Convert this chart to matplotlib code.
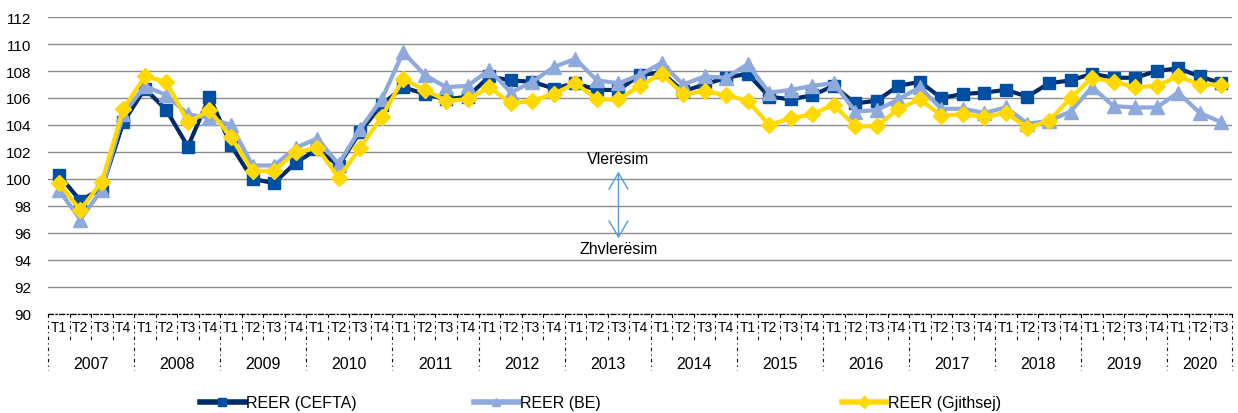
import matplotlib.pyplot as plt
from matplotlib.lines import Line2D
import matplotlib.transforms as mtransforms

plt.rcParams['font.family'] = ['Liberation Sans', 'DejaVu Sans']

years = ['2007', '2008', '2009', '2010', '2011', '2012', '2013',
         '2014', '2015', '2016', '2017', '2018', '2019', '2020']
quarters_per_year = [4] * 13 + [3]
quarters = [f'T{q + 1}' for n in quarters_per_year for q in range(n)]

# REER (CEFTA)
cefta = [100.3, 98.4, 99.3, 104.2, 106.7, 105.1, 102.4, 106.1,
         102.5, 100.0, 99.7, 101.2, 102.2, 101.0, 103.5, 105.5,
         106.8, 106.3, 105.9, 106.1, 107.6, 107.3, 107.2, 106.7,
         107.1, 106.6, 106.6, 107.7, 107.9, 106.5, 107.0, 107.5,
         107.8, 106.1, 105.9, 106.2, 106.9, 105.6, 105.8, 106.9,
         107.2, 106.0, 106.3, 106.4, 106.6, 106.1, 107.1, 107.3,
         107.8, 107.5, 107.5, 108.0, 108.2, 107.6, 107.1]
# REER (BE)
be = [99.2, 97.0, 99.2, 104.8, 106.9, 106.2, 104.8, 104.5,
      104.0, 101.0, 101.0, 102.3, 103.0, 101.1, 103.7, 105.9,
      109.4, 107.7, 106.8, 106.9, 108.1, 106.4, 107.2, 108.3,
      108.9, 107.3, 107.1, 107.7, 108.6, 107.0, 107.6, 107.5,
      108.5, 106.4, 106.6, 106.9, 107.1, 105.0, 105.1, 105.9,
      106.8, 105.2, 105.2, 104.9, 105.3, 104.1, 104.3, 105.0,
      106.8, 105.4, 105.3, 105.3, 106.4, 104.9, 104.2]
# REER (Gjithsej)
gjithsej = [99.7, 97.7, 99.8, 105.2, 107.6, 107.2, 104.2, 105.1,
            103.1, 100.6, 100.6, 102.0, 102.3, 100.1, 102.3, 104.6,
            107.4, 106.6, 105.8, 105.9, 106.8, 105.6, 105.8, 106.3,
            107.1, 105.9, 105.9, 106.9, 107.8, 106.3, 106.5, 106.2,
            105.8, 104.0, 104.5, 104.8, 105.5, 103.9, 103.9, 105.2,
            105.9, 104.7, 104.8, 104.6, 104.9, 103.8, 104.3, 106.0,
            107.5, 107.2, 106.8, 106.9, 107.6, 107.0, 107.0]

x = list(range(len(quarters)))

fig = plt.figure(figsize=(12.38, 4.14), dpi=100)
ax = fig.add_axes([48 / 1238, 1 - 315 / 414, 1184 / 1238, 297 / 414])

l1, = ax.plot(x, cefta, color='#002B66', lw=3, marker='s', ms=9,
              mfc='#004FA3', mec='#004FA3', zorder=3)
l2, = ax.plot(x, be, color='#8EA9DB', lw=3, marker='^', ms=10,
              mfc='#8EA9DB', mec='#8EA9DB', zorder=4)
l3, = ax.plot(x, gjithsej, color='#FFD900', lw=3, marker='D', ms=8,
              mfc='#FFD900', mec='#FFD900', zorder=5)

ax.set_xlim(-0.5, len(x) - 0.5)
ax.set_ylim(90, 112)
ax.set_yticks(range(90, 113, 2))
ax.yaxis.grid(True, color='#8c8c8c', lw=1)
ax.set_axisbelow(True)
ax.tick_params(axis='y', length=0, pad=12, labelsize=11)
ax.set_xticks([])
for s in ['left', 'right', 'top']:
    ax.spines[s].set_visible(False)
ax.spines['bottom'].set_linestyle((0, (4, 2, 1, 2)))
ax.spines['bottom'].set_linewidth(0.9)
ax.spines['bottom'].set_zorder(6)

# two level category axis
trans = mtransforms.blended_transform_factory(ax.transData, ax.transAxes)
dash = (0, (3, 3, 1, 3))
for i, q in enumerate(quarters):
    ax.text(i, -0.045, q, transform=trans, ha='center', va='center', fontsize=10)
pos = 0
bounds = [0]
for yr, n in zip(years, quarters_per_year):
    ax.text(pos + (n - 1) / 2, -0.165, yr, transform=trans, ha='center', va='center',
            fontsize=11.5)
    pos += n
    bounds.append(pos)
for b in range(len(x) + 1):
    y0 = -0.19 if b in bounds else -0.09
    ax.plot([b - 0.5, b - 0.5], [0, y0], transform=trans, color='black', lw=0.8,
            ls=dash, clip_on=False)

# annotation
ax.annotate('', xy=(26.0, 100.55), xytext=(26.0, 95.6),
            arrowprops=dict(arrowstyle='<->,head_length=0.65,head_width=0.38',
                            color='#5B9BD5', lw=1, mutation_scale=18,
                            shrinkA=0, shrinkB=0))
ax.text(26.0, 101.5, 'Vlerësim', ha='center', va='center', fontsize=11.5)
ax.text(26.0, 94.85, 'Zhvlerësim', ha='center', va='center', fontsize=11.5)

# legend entries
for h, lab, xpos in [(l1, 'REER (CEFTA)', 200), (l2, 'REER (BE)', 474),
                     (l3, 'REER (Gjithsej)', 842)]:
    leg = fig.legend([Line2D([], [], color=h.get_color(), lw=4, marker=h.get_marker(),
                             ms=6, mfc=h.get_mfc(), mec=h.get_mec())], [lab],
                     loc='center left', bbox_to_anchor=(xpos / 1238, 10 / 414),
                     frameon=False, borderpad=0, borderaxespad=0,
                     handlelength=2.8, handletextpad=0.1, fontsize=11.5)

fig.savefig('out.png', dpi=100)
